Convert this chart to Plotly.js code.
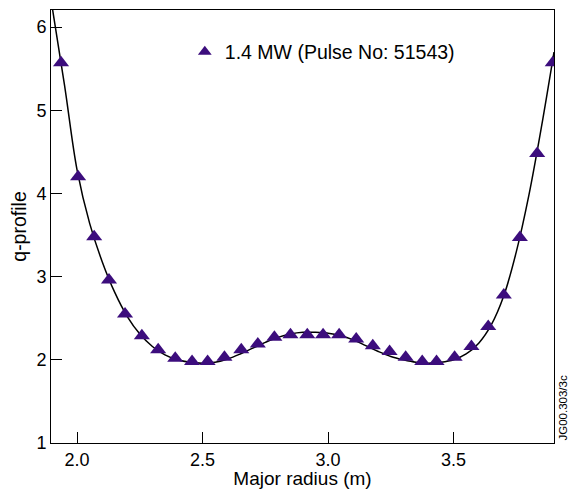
<!DOCTYPE html>
<html>
<head>
<meta charset="utf-8">
<script src="https://cdn.plot.ly/plotly-3.0.1.min.js"></script>
<style>html,body{margin:0;padding:0;background:#fff;}#chart{width:573px;height:489px;}</style>
</head>
<body>
<div id="chart"></div>
<script>
// Measured q-profile points (Pulse No: 51543, 1.4 MW)
var radiusPoints = [1.936, 2.004, 2.068, 2.127, 2.191, 2.258, 2.323, 2.391, 2.458, 2.520,
  2.587, 2.654, 2.720, 2.786, 2.850, 2.917, 2.980, 3.044, 3.112, 3.178,
  3.245, 3.309, 3.375, 3.432, 3.504, 3.571, 3.638, 3.700, 3.764, 3.833, 3.895];
var qPoints = [5.57, 4.20, 3.48, 2.96, 2.55, 2.29, 2.12, 2.02, 1.98, 1.98,
  2.03, 2.12, 2.19, 2.27, 2.30, 2.30, 2.30, 2.30, 2.25, 2.17,
  2.10, 2.03, 1.98, 1.98, 2.03, 2.16, 2.40, 2.78, 3.47, 4.48, 5.57];

// Fitted curve
var radiusFit = [1.895, 1.95, 2.0, 2.05, 2.1, 2.15, 2.2, 2.25, 2.3, 2.35, 2.4, 2.45, 2.5, 2.55,
  2.6, 2.65, 2.7, 2.75, 2.8, 2.85, 2.9, 2.95, 3.0, 3.05, 3.1, 3.15, 3.2, 3.25, 3.3,
  3.35, 3.4, 3.45, 3.5, 3.55, 3.6, 3.65, 3.7, 3.75, 3.8, 3.85, 3.9];
var qFit = [6.35, 5.30, 4.28, 3.64, 3.18, 2.81, 2.52, 2.31, 2.16, 2.06, 2.00, 1.97, 1.96, 1.97,
  2.01, 2.07, 2.14, 2.21, 2.27, 2.31, 2.33, 2.33, 2.32, 2.29, 2.24, 2.17, 2.10, 2.04, 2.00,
  1.97, 1.96, 1.97, 2.00, 2.07, 2.20, 2.42, 2.77, 3.30, 3.98, 4.80, 5.70];

var xTicks = [2.0, 2.5, 3.0, 3.5];
var yTicks = [1, 2, 3, 4, 5, 6];
var legendLabel = '1.4 MW (Pulse No: 51543)';

var font = 'Liberation Sans, Arial, Helvetica, sans-serif';

var traces = [
  {x: radiusFit, y: qFit, mode: 'lines', type: 'scatter', showlegend: false,
   line: {color: '#000000', width: 1.5, shape: 'spline', smoothing: 1}, hoverinfo: 'skip'},
  {x: radiusPoints, y: qPoints, mode: 'markers', type: 'scatter', name: legendLabel,
   marker: {symbol: 'triangle-up', size: 14, color: '#3c0d7d'}}
];

var axisCommon = {
  showgrid: false, zeroline: false, showline: true, linecolor: '#000', linewidth: 1,
  mirror: true, ticks: 'inside', ticklen: 11, tickcolor: '#000', tickwidth: 1,
  tickfont: {family: font, size: 18, color: '#000'}
};

var layout = {
  width: 573, height: 489,
  margin: {l: 51, r: 19, t: 10, b: 46, pad: 0},
  paper_bgcolor: '#fff', plot_bgcolor: '#fff',
  font: {family: font, color: '#000'},
  xaxis: Object.assign({}, axisCommon, {
    range: [1.896, 3.9], tickvals: xTicks, ticktext: xTicks.map(function(v){return v.toFixed(1);}),
    title: {text: 'Major radius (m)', font: {family: font, size: 19, color: '#000'}, standoff: 3}
  }),
  yaxis: Object.assign({}, axisCommon, {
    range: [1, 6.205], tickvals: yTicks,
    title: {text: 'q-profile', font: {family: font, size: 19.5, color: '#000'}, standoff: 4}
  }),
  showlegend: true,
  legend: {x: 0.266, y: 0.948, xanchor: 'left', yanchor: 'top', bgcolor: 'rgba(0,0,0,0)',
    font: {family: font, size: 19.5, color: '#000'}, itemsizing: 'constant'},
  annotations: [{
    text: 'JG00.303/3c', xref: 'paper', yref: 'paper', x: 1.0, y: 0,
    xshift: 8, xanchor: 'center', yanchor: 'bottom', textangle: -90, showarrow: false,
    font: {family: font, size: 11.5, color: '#000'}
  }]
};

Plotly.newPlot('chart', traces, layout, {displayModeBar: false, staticPlot: true});
</script>
</body>
</html>
